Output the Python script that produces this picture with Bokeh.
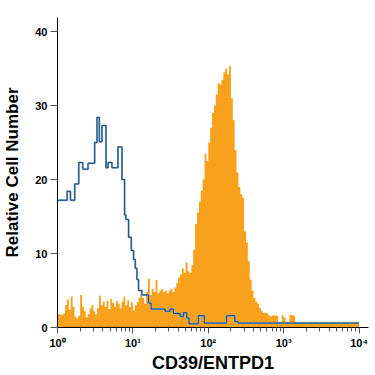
import numpy as np
from bokeh.plotting import figure
from bokeh.models import FixedTicker, Range1d
from bokeh.embed import file_html
from bokeh.resources import INLINE

# ---- data (x in log10 units of fluorescence intensity) ----
x_ticks = [0, 1, 2, 3, 4]
x_tick_labels = ["10\u2070", "10\u00b9", "10\u00b2", "10\u00b3", "10\u2074"]
y_ticks = [0, 10, 20, 30, 40]

# CD39/ENTPD1 stained cells (orange, filled) - channel width 0.025 decade
orange_bin_width = 0.025
orange_counts = [
    1.8, 1.8, 1.7, 1.9,
    3.0, 3.8, 2.4, 4.2, 2.8,
    1.5, 1.2, 1.6,
    4.4, 2.8,
    2.2, 1.4, 1.8, 2.6, 3.0, 2.2, 1.8, 2.6,
    4.3, 3.0,
    3.5, 2.8, 3.6, 2.5, 3.9, 3.3, 2.8, 3.6, 3.2, 2.6, 3.5, 4.2, 3.0, 3.7, 2.8, 3.4, 2.3,
    3.0, 3.4, 4.0, 4.6, 4.0, 3.2, 4.8,
    6.6, 4.4,
    5.2, 4.8, 6.4, 4.6, 5.0, 5.2, 4.8, 5.0, 4.6, 5.0, 5.2, 4.8, 5.4,
    6.0, 6.8, 7.2, 8.0, 7.4, 8.8, 7.6,
    7.4, 8.4, 10.5,
    14.0, 15.5,
    17.0, 18.5, 20.0,
    23.5, 22.5,
    25.0, 27.0, 29.0, 30.0,
    31.5, 33.0, 32.8, 33.5,
    34.5, 35.0, 34.2, 35.3,
    31.0, 28.0, 24.0, 21.0, 19.0, 18.0, 17.5, 13.0,
    11.5, 9.0, 6.5, 5.0, 4.0, 3.5, 3.2, 2.6, 2.2, 2.0,
    2.0, 1.9, 1.6, 1.5, 1.7, 1.6, 1.6, 0.6, 0.6, 1.7, 1.3, 0.5, 0.5, 1.7, 1.7, 1.6,
]
orange_tail_count = 0.5
orange_tail_end = 4.0

# isotype control (blue outline)
blue_edges = [0, 0.128, 0.172, 0.229, 0.282, 0.335, 0.405, 0.493, 0.524, 0.555,
              0.590, 0.643, 0.670, 0.722, 0.802, 0.855, 0.890, 0.907, 0.943, 0.978,
              1.009, 1.031, 1.053, 1.075, 1.119, 1.207, 1.242, 1.427, 1.493, 1.537,
              1.626, 1.670, 1.714, 1.744, 1.868, 1.947, 2.242, 2.352, 2.396, 4.0]
blue_counts = [17.2, 18.4, 17.2, 19.4, 22.3, 21.4, 22.2, 25.0, 28.4, 25.1,
               27.3, 21.6, 22.3, 21.6, 24.4, 20.0, 15.2, 14.6, 12.2, 10.4,
               9.2, 8.0, 6.5, 5.0, 4.4, 3.3, 2.5, 2.2, 2.5, 1.9,
               1.5, 2.0, 1.3, 0.5, 1.6, 0.6, 1.6, 0.8, 0.6]


def steps(edges, counts):
    edges = np.asarray(edges, dtype=float)
    counts = np.asarray(counts, dtype=float)
    xs = np.repeat(edges, 2)[1:-1]
    ys = np.repeat(counts, 2)
    return xs, ys


o_edges = list(np.arange(len(orange_counts) + 1) * orange_bin_width) + [orange_tail_end]
o_counts = orange_counts + [orange_tail_count]
ox, oy = steps(o_edges, o_counts)
bx, by = steps(blue_edges, blue_counts)

minor = [np.log10(k) + d for d in range(4) for k in range(2, 10)]

p = figure(width=375, height=375, output_backend="svg", toolbar_location=None,
           x_range=Range1d(0, 4.125), y_range=Range1d(0, 41.9),
           min_border_left=55, min_border_right=7, min_border_top=17,
           min_border_bottom=46)
p.outline_line_color = None
p.xgrid.visible = False
p.ygrid.visible = False
p.background_fill_color = "white"
p.border_fill_color = "white"

p.varea(x=ox, y1=0, y2=oy, fill_color="#f7a11c", fill_alpha=1.0)
p.line(bx, by, line_color="#7aa7d0", line_width=2.0)
p.line(bx, by, line_color="#24496e", line_width=1.0)

font = "Liberation Sans"
xa = p.xaxis[0]
xa.ticker = FixedTicker(ticks=x_ticks, minor_ticks=minor)
xa.major_label_overrides = {t: l for t, l in zip(x_ticks, x_tick_labels)}
xa.axis_label = "CD39/ENTPD1"
xa.axis_label_text_font = font
xa.axis_label_text_font_style = "bold"
xa.axis_label_text_font_size = "18px"
xa.axis_label_text_color = "black"
xa.axis_label_standoff = 1
xa.major_label_text_font = font
xa.major_label_text_font_style = "bold"
xa.major_label_text_font_size = "11px"
xa.major_label_text_color = "black"
xa.major_label_standoff = 3
xa.major_tick_out = 6
xa.major_tick_in = 0
xa.minor_tick_out = 4
xa.minor_tick_in = 0
xa.axis_line_color = "black"
xa.major_tick_line_color = "#555555"
xa.minor_tick_line_color = "#555555"

ya = p.yaxis[0]
ya.ticker = FixedTicker(ticks=y_ticks)
ya.axis_label = "Relative Cell Number"
ya.axis_label_text_font = font
ya.axis_label_text_font_style = "bold"
ya.axis_label_text_font_size = "17px"
ya.axis_label_text_color = "black"
ya.axis_label_standoff = 10
ya.major_label_text_font = font
ya.major_label_text_font_style = "bold"
ya.major_label_text_font_size = "11px"
ya.major_label_text_color = "black"
ya.major_label_standoff = 3
ya.major_tick_out = 7
ya.major_tick_in = 0
ya.minor_tick_line_color = None
ya.axis_line_color = "black"
ya.major_tick_line_color = "#555555"

open("out.html", "w").write(file_html(p, INLINE))
